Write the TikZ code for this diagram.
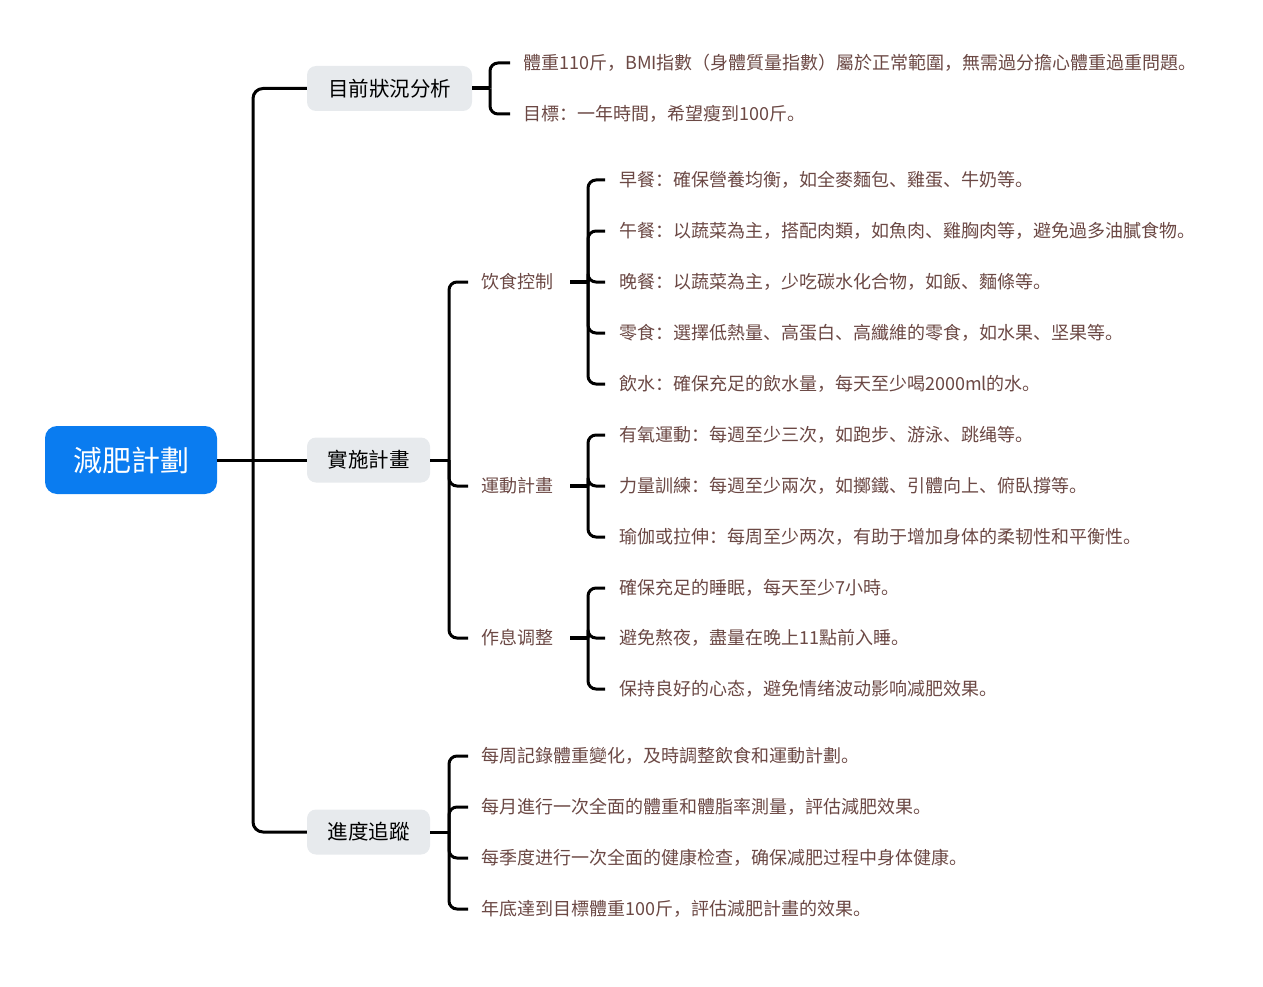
\documentclass[tikz,border=0pt]{standalone}
\usepackage{fontspec}
\setmainfont{Noto Sans CJK SC}
\definecolor{rootblue}{HTML}{0A7CF0}
\definecolor{nodegray}{HTML}{E7EAED}
\definecolor{leafbrown}{HTML}{6B4844}
\begin{document}
\begin{tikzpicture}[x=1pt,y=-1pt,
  rootbox/.style={fill=rootblue,rounded corners=12pt,minimum width=172pt,minimum height=68pt,text=white,font=\fontsize{29}{32}\selectfont,inner sep=0pt},
  topic/.style={fill=nodegray,rounded corners=9pt,minimum height=45pt,text=black,font=\fontsize{20.5}{24}\selectfont,inner sep=0pt},
  sub/.style={anchor=west,inner sep=0pt,text=leafbrown,font=\fontsize{18}{21}\selectfont},
  leaf/.style={anchor=west,inner sep=0pt,text=leafbrown,font=\fontsize{18}{21}\selectfont},
  conn/.style={draw=black,line width=3pt,rounded corners=10pt},
  stem/.style={draw=black,line width=4pt},
]
\useasboundingbox (0,0) rectangle (1263,987);

% root and topics
\node[rootbox] (root) at (131,460) {減肥計劃};
\node[topic,minimum width=165pt] (a) at (389.5,88.5) {目前狀況分析};
\node[topic,minimum width=123pt] (b) at (368.5,460) {實施計畫};
\node[topic,minimum width=123pt] (c) at (368.5,832) {進度追蹤};

\coordinate (t) at (253,460);
\draw[conn] (root.east) -- (t);
\draw[conn] (t) |- (a.west);
\draw[conn] (t) -- (b.west);
\draw[conn] (t) |- (c.west);

% topic a leaves
\node[leaf] (a1) at (523,63) {體重110斤，BMI指數（身體質量指數）屬於正常範圍，無需過分擔心體重過重問題。};
\node[leaf] (a2) at (523,114) {目標：一年時間，希望瘦到100斤。};
\coordinate (ja) at (490,88.5);
\draw[stem] (a.east) -- (ja);
\foreach \n in {a1,a2} \draw[conn,rounded corners=8pt] (ja) |- ([xshift=-13pt]\n.west);

% topic b subtopics
\node[sub] (d) at (481,282) {饮食控制};
\node[sub] (e) at (481,486) {運動計畫};
\node[sub] (f) at (481,638) {作息调整};
\coordinate (jb) at (449,460);
\draw[conn] (b.east) -- (jb);
\foreach \n in {d,e,f} \draw[conn,rounded corners=8pt] (jb) |- ([xshift=-13pt]\n.west);

% d leaves
\node[leaf] (d1) at (619,180) {早餐：確保營養均衡，如全麥麵包、雞蛋、牛奶等。};
\node[leaf] (d2) at (619,231) {午餐：以蔬菜為主，搭配肉類，如魚肉、雞胸肉等，避免過多油膩食物。};
\node[leaf] (d3) at (619,282) {晚餐：以蔬菜為主，少吃碳水化合物，如飯、麵條等。};
\node[leaf] (d4) at (619,333) {零食：選擇低熱量、高蛋白、高纖維的零食，如水果、坚果等。};
\node[leaf] (d5) at (619,384) {飲水：確保充足的飲水量，每天至少喝2000ml的水。};
\coordinate (jd) at (588,282);
\draw[stem] ([xshift=17pt]d.east) -- (jd);
\foreach \n in {d1,d2,d3,d4,d5} \draw[conn,rounded corners=8pt] (jd) |- ([xshift=-14pt]\n.west);

% e leaves
\node[leaf] (e1) at (619,435) {有氧運動：每週至少三次，如跑步、游泳、跳绳等。};
\node[leaf] (e2) at (619,486) {力量訓練：每週至少兩次，如擲鐵、引體向上、俯臥撐等。};
\node[leaf] (e3) at (619,537) {瑜伽或拉伸：每周至少两次，有助于增加身体的柔韧性和平衡性。};
\coordinate (je) at (588,486);
\draw[stem] ([xshift=17pt]e.east) -- (je);
\foreach \n in {e1,e2,e3} \draw[conn,rounded corners=8pt] (je) |- ([xshift=-14pt]\n.west);

% f leaves
\node[leaf] (f1) at (619,588) {確保充足的睡眠，每天至少7小時。};
\node[leaf] (f2) at (619,638) {避免熬夜，盡量在晚上11點前入睡。};
\node[leaf] (f3) at (619,689) {保持良好的心态，避免情绪波动影响减肥效果。};
\coordinate (jf) at (588,638);
\draw[stem] ([xshift=17pt]f.east) -- (jf);
\foreach \n in {f1,f2,f3} \draw[conn,rounded corners=8pt] (jf) |- ([xshift=-14pt]\n.west);

% topic c leaves
\node[leaf] (c1) at (481,756) {每周記錄體重變化，及時調整飲食和運動計劃。};
\node[leaf] (c2) at (481,807) {每月進行一次全面的體重和體脂率測量，評估減肥效果。};
\node[leaf] (c3) at (481,858) {每季度进行一次全面的健康检查，确保减肥过程中身体健康。};
\node[leaf] (c4) at (481,909) {年底達到目標體重100斤，評估減肥計畫的效果。};
\coordinate (jc) at (449,832);
\draw[conn] (c.east) -- (jc);
\foreach \n in {c1,c2,c3,c4} \draw[conn,rounded corners=8pt] (jc) |- ([xshift=-13pt]\n.west);
\end{tikzpicture}
\end{document}
